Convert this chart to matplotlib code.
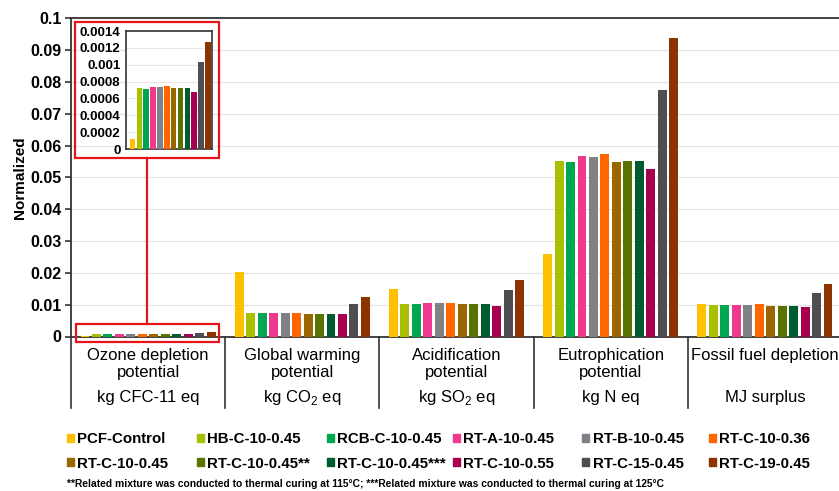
import numpy as np
import matplotlib
matplotlib.use("Agg")
import matplotlib.pyplot as plt
from matplotlib.patches import Rectangle
from matplotlib.lines import Line2D
import matplotlib.transforms as mtransforms

plt.rcParams['font.family'] = ['Liberation Sans', 'DejaVu Sans']
plt.rcParams['mathtext.fontset'] = 'custom'
plt.rcParams['mathtext.rm'] = 'Liberation Sans'

# data
categories = ["Ozone depletion\npotential", "Global warming\npotential", "Acidification\npotential",
              "Eutrophication\npotential", "Fossil fuel depletion"]
units = ["kg CFC-11 eq", "kg CO$_2$ eq", "kg SO$_2$ eq", "kg N eq", "MJ surplus"]
mixtures = ["PCF-Control", "HB-C-10-0.45", "RCB-C-10-0.45", "RT-A-10-0.45", "RT-B-10-0.45", "RT-C-10-0.36",
            "RT-C-10-0.45", "RT-C-10-0.45**", "RT-C-10-0.45***", "RT-C-10-0.55", "RT-C-15-0.45", "RT-C-19-0.45"]
colors = ["#FFC000", "#A8C000", "#00A650", "#F0388F", "#808087", "#FF6600",
          "#996600", "#5A7300", "#005C2E", "#A80050", "#4D4D52", "#8C3300"]

ozone = [0.00012, 0.00072, 0.00071, 0.00074, 0.00073, 0.00075, 0.00072, 0.00072, 0.00072, 0.00068, 0.00103, 0.00127]
global_warming = [0.0204, 0.0073, 0.0073, 0.0074, 0.0074, 0.0074, 0.0072, 0.0072, 0.0072, 0.0070, 0.0101, 0.0123]
acidification = [0.0149, 0.0103, 0.0102, 0.0104, 0.0104, 0.0105, 0.0101, 0.0101, 0.0101, 0.0097, 0.0146, 0.0176]
eutrophication = [0.0259, 0.0552, 0.0549, 0.0566, 0.0563, 0.0574, 0.0549, 0.0550, 0.0550, 0.0526, 0.0775, 0.0937]
fossil = [0.0101, 0.0099, 0.0098, 0.0100, 0.0099, 0.0101, 0.0097, 0.0097, 0.0097, 0.0093, 0.0137, 0.0166]

values = np.array([ozone, global_warming, acidification, eutrophication, fossil])

fig = plt.figure(figsize=(8.39, 4.91), dpi=100)
W, H = 839, 491

def fx(px):
    return px / W

def fy(py):
    return 1 - py / H

# main axes
ax = fig.add_axes([fx(71), fy(336.5), fx(842 - 71), fy(18.3) - fy(336.5)])
n = len(mixtures)
step = 0.0744
bw = 0.058
x = np.arange(len(categories))
for i in range(n):
    ax.bar(x - 5.5 * step + i * step, values[:, i], width=bw, color=colors[i], zorder=3)

ax.set_xlim(-0.5, 4.5)
ax.set_ylim(0, 0.1)
ax.set_yticks(np.arange(0, 0.1001, 0.01))
ax.set_yticklabels(["%g" % round(v, 2) for v in np.arange(0, 0.1001, 0.01)], fontweight='bold', fontsize=11.5)
ax.set_xticks([])
ax.grid(axis='y', color='#E4E4E4', lw=0.9, zorder=0)
for s in ['left', 'top', 'bottom']:
    ax.spines[s].set_color('#333333')
    ax.spines[s].set_linewidth(1.3)
ax.spines['right'].set_visible(False)
ax.tick_params(axis='y', length=4, width=1.2, color='#333333', pad=3)
ax.set_ylabel("Normalized", fontweight='bold', fontsize=11, labelpad=2)

# category table below the axis
trans = mtransforms.blended_transform_factory(ax.transData, ax.transAxes)
ybot = -(408 - 336.5) / 318.2
for b in np.arange(-0.5, 5.0, 1.0):
    ax.add_line(Line2D([b, b], [0, ybot], transform=trans, color='#333333', lw=1.2, clip_on=False))
for i, (c, u) in enumerate(zip(categories, units)):
    if "\n" in c:
        ax.text(i, -(364 - 336.5) / 318.2, c, transform=trans, ha='center', va='center', fontsize=12,
                linespacing=1.15)
    else:
        ax.text(i, -(355.5 - 336.5) / 318.2, c, transform=trans, ha='center', va='center', fontsize=12)
    ax.text(i, -(398 - 336.5) / 318.2, u, transform=trans, ha='center', va='center', fontsize=12)

# inset
ins = fig.add_axes([fx(126), fy(149), fx(212 - 126), fy(31) - fy(149)])
xi = np.arange(n)
ins.bar(xi, ozone, width=0.82, color=colors, zorder=3)
ins.set_xlim(-0.95, 11.6)
ins.set_ylim(0, 0.0014)
iticks = np.arange(0, 0.00141, 0.0002)
ins.set_yticks(iticks)
ins.set_yticklabels(["%g" % round(v, 4) for v in iticks], fontweight='bold', fontsize=9.5)
ins.set_xticks([])
ins.grid(axis='y', color='#E8E8E8', lw=0.8, zorder=0)
for s in ins.spines.values():
    s.set_color('#333333')
    s.set_linewidth(1.2)
ins.tick_params(axis='y', length=0, pad=4)

# red highlight boxes
fig.add_artist(Rectangle((fx(75), fy(158)), fx(219 - 75), fy(22) - fy(158), transform=fig.transFigure,
                         fill=False, edgecolor='#E8141B', lw=1.6))
fig.add_artist(Rectangle((fx(75.5), fy(342)), fx(218.5 - 75.5), fy(324) - fy(342), transform=fig.transFigure,
                         fill=False, edgecolor='#E8141B', lw=1.6))
fig.add_artist(Line2D([fx(147), fx(147)], [fy(158), fy(324)], transform=fig.transFigure, color='#E8141B', lw=1.6))

# legend, one column at a time
col_x = [67, 197, 327, 453, 582, 709]
for col in range(6):
    idx = [col, col + 6]
    hs = [Rectangle((0, 0), 1, 1, color=colors[k]) for k in idx]
    lg = fig.legend(hs, [mixtures[k] for k in idx], loc='upper left',
                    bbox_to_anchor=(fx(col_x[col]), fy(432.3)), frameon=False,
                    prop={'weight': 'bold', 'size': 10.8}, handlelength=0.45, handleheight=0.45,
                    handletextpad=0.25, labelspacing=0.7, borderaxespad=0, borderpad=0)

fig.text(fx(67), fy(484), "**Related mixture was conducted to thermal curing at 115°C; ***Related mixture was conducted to thermal curing at 125°C",
         fontsize=7.4, fontweight='bold', va='center', ha='left')

fig.savefig("out.png", dpi=100)
